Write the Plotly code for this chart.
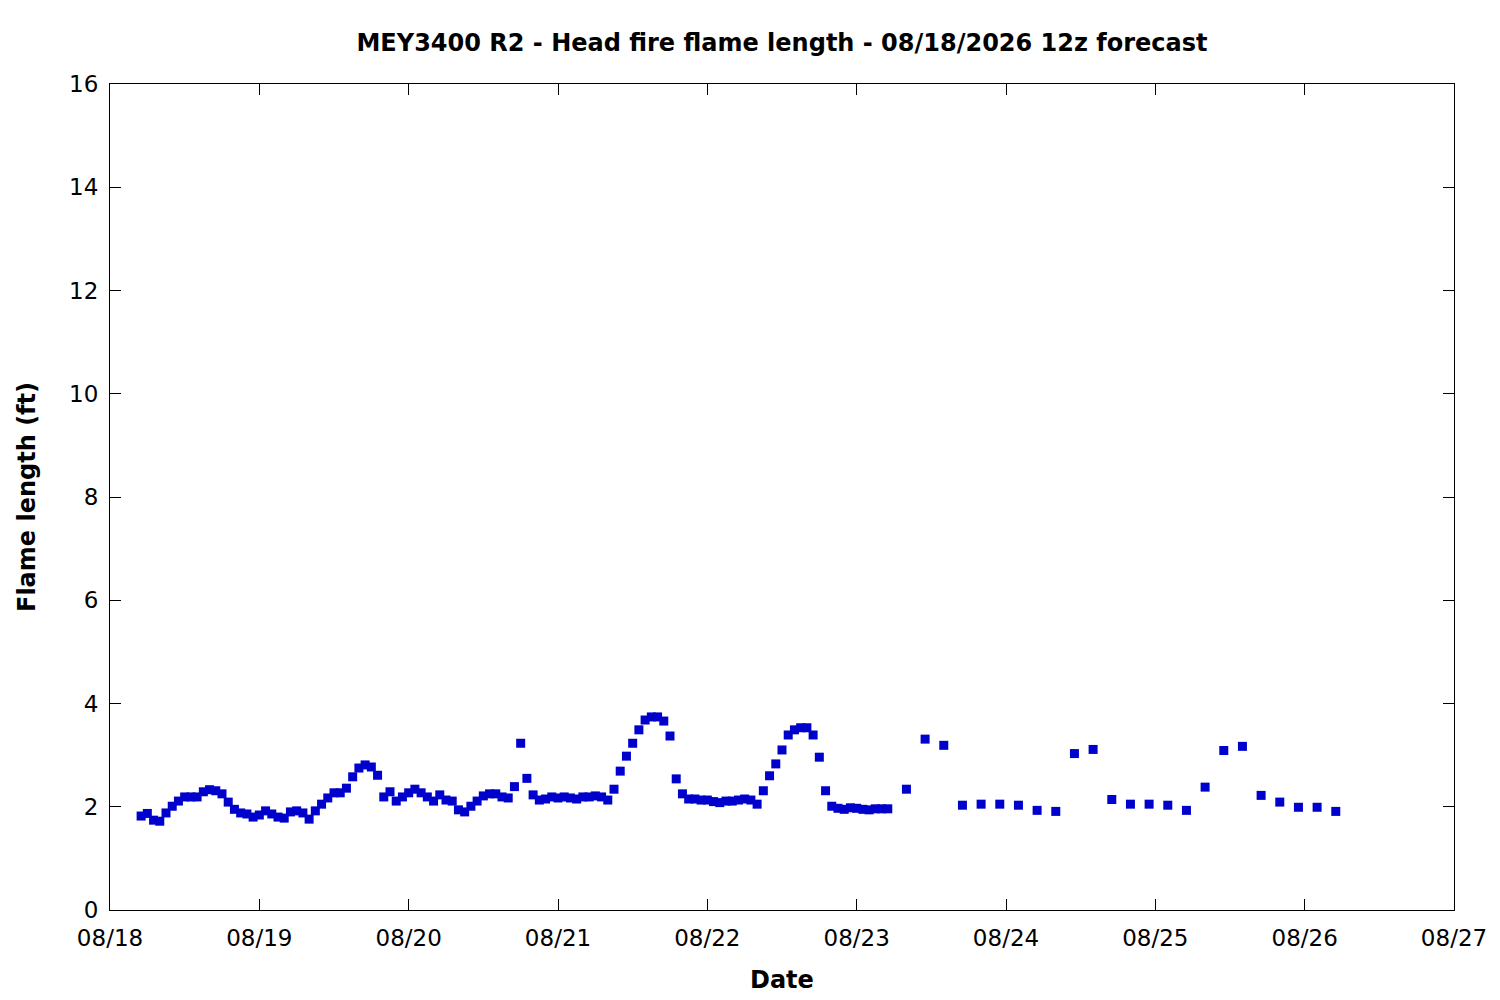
import pandas as pd
import plotly.graph_objects as go

# Hourly forecast values (ft), 08/18 05:00 -> 08/23 05:00
flame_hourly = [
    1.82, 1.87, 1.74, 1.72, 1.88, 2.01, 2.11, 2.19, 2.19, 2.19, 2.29, 2.33, 2.31, 2.25, 2.09,
    1.95, 1.88, 1.86, 1.80, 1.84, 1.92, 1.86, 1.80, 1.78, 1.90, 1.92, 1.88, 1.76, 1.92,
    2.05, 2.17, 2.27, 2.27, 2.36, 2.58, 2.75, 2.81, 2.77, 2.61, 2.19, 2.29, 2.11, 2.19,
    2.27, 2.34, 2.27, 2.19, 2.11, 2.23, 2.13, 2.11, 1.94, 1.90, 2.01, 2.11, 2.21, 2.25,
    2.25, 2.19, 2.17, 2.39, 3.23, 2.55, 2.23, 2.13,
    2.15, 2.19, 2.17, 2.19, 2.17, 2.15, 2.19, 2.19, 2.21, 2.19, 2.13, 2.34, 2.69, 2.98,
    3.23, 3.49, 3.68, 3.74, 3.74, 3.66, 3.37, 2.54, 2.25, 2.15, 2.15, 2.13, 2.13,
    2.10, 2.08, 2.11, 2.11, 2.13, 2.15, 2.13, 2.05, 2.31, 2.60, 2.83, 3.10, 3.39, 3.49,
    3.53, 3.53, 3.39, 2.96, 2.31, 2.01, 1.97, 1.95, 1.98, 1.97, 1.95, 1.94, 1.96, 1.96, 1.96,
]
hourly_start = "2026-08-18 05:00"

# 3-hourly forecast values (ft), 08/23 08:00 -> 08/26 05:00
flame_3hourly = [
    2.34, 3.31, 3.19, 2.03, 2.05, 2.05, 2.03, 1.93, 1.91, 3.03, 3.11, 2.14,
    2.05, 2.05, 2.03, 1.93, 2.38, 3.09, 3.17, 2.22, 2.09, 1.99, 1.99, 1.91,
]
three_hourly_start = "2026-08-23 08:00"

x_range = ["2026-08-18", "2026-08-27"]
y_ticks = [0, 2, 4, 6, 8, 10, 12, 14, 16]

title_text = "MEY3400 R2 - Head fire flame length - 08/18/2026 12z forecast"
x_label = "Date"
y_label = "Flame length (ft)"

times = list(pd.date_range(hourly_start, periods=len(flame_hourly), freq="h")) + \
    list(pd.date_range(three_hourly_start, periods=len(flame_3hourly), freq="3h"))
values = flame_hourly + flame_3hourly

FONT = "DejaVu Sans"
OFF = 8  # page body margin offset

fig = go.Figure()
fig.add_trace(go.Scatter(
    x=times, y=values, mode="markers",
    marker=dict(symbol="square", size=9, color="#0000cc", line=dict(width=0)),
    showlegend=False,
))

axis_common = dict(
    showline=True, linecolor="black", linewidth=1, mirror="allticks",
    ticks="inside", ticklen=11, tickwidth=1, tickcolor="black",
    showgrid=False, zeroline=False,
    tickfont=dict(family=FONT, size=23, color="black"),
)

fig.update_layout(
    width=1500, height=1000,
    margin=dict(l=110 - OFF, r=46 + OFF, t=84 - OFF, b=90 + OFF, pad=0),
    paper_bgcolor="white", plot_bgcolor="white",
    font=dict(family=FONT, color="black"),
    title=dict(
        text="<b>" + title_text + "</b>",
        x=0.5, xref="paper", xanchor="center",
        y=1 - (43 - OFF) / 1000, yref="container", yanchor="middle",
        font=dict(family=FONT, size=24, color="black"),
    ),
    xaxis=dict(
        type="date", range=x_range, dtick=86400000, tick0="2026-08-18",
        tickformat="%m/%d", ticklabelstandoff=7, **axis_common,
    ),
    yaxis=dict(
        range=[0, 16], tickvals=y_ticks, ticklabelstandoff=6, **axis_common,
    ),
    annotations=[
        dict(text="<b>" + x_label + "</b>", xref="paper", yref="paper",
             x=0.5, y=(910 - 980) / 826, xanchor="center", yanchor="middle",
             showarrow=False, font=dict(family=FONT, size=24, color="black")),
        dict(text="<b>" + y_label + "</b>", xref="paper", yref="paper",
             x=(27 - 110) / 1344, y=(910 - 497) / 826, xanchor="center", yanchor="middle",
             textangle=-90, showarrow=False,
             font=dict(family=FONT, size=24, color="black")),
    ],
)

fig.write_html("out.html")
